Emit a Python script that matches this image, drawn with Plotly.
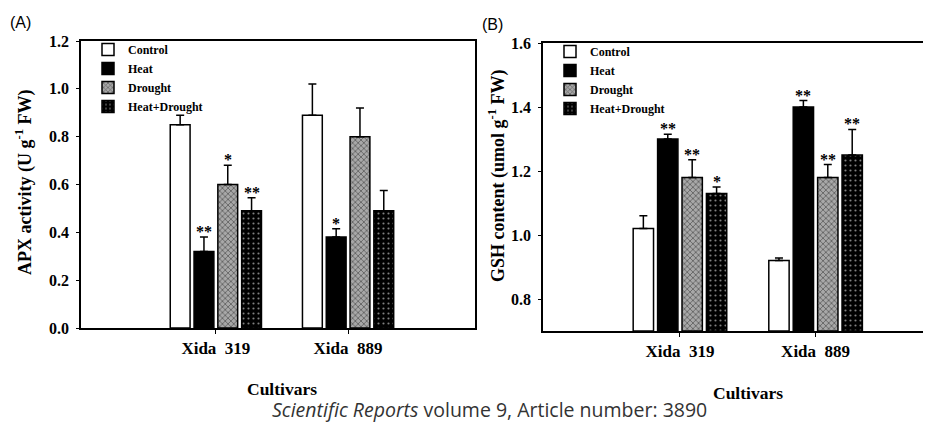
import plotly.graph_objects as go

# ---------------- data ----------------
cultivars = ["Xida\u00a0\u00a0319", "Xida\u00a0\u00a0889"]
treatments = ["Control", "Heat", "Drought", "Heat+Drought"]

apx_control = [0.85, 0.89]
apx_heat = [0.32, 0.38]
apx_drought = [0.60, 0.80]
apx_heatdrought = [0.49, 0.49]
apx_err_control = [0.04, 0.13]
apx_err_heat = [0.06, 0.035]
apx_err_drought = [0.08, 0.12]
apx_err_heatdrought = [0.055, 0.085]
apx_sig_control = ["", ""]
apx_sig_heat = ["**", "*"]
apx_sig_drought = ["*", ""]
apx_sig_heatdrought = ["**", ""]

gsh_control = [1.02, 0.92]
gsh_heat = [1.30, 1.40]
gsh_drought = [1.18, 1.18]
gsh_heatdrought = [1.13, 1.25]
gsh_err_control = [0.04, 0.008]
gsh_err_heat = [0.015, 0.02]
gsh_err_drought = [0.055, 0.04]
gsh_err_heatdrought = [0.02, 0.08]
gsh_sig_control = ["", ""]
gsh_sig_heat = ["**", "**"]
gsh_sig_drought = ["**", "**"]
gsh_sig_heatdrought = ["*", "**"]

apx_y_ticks = [0.0, 0.2, 0.4, 0.6, 0.8, 1.0, 1.2]
gsh_y_ticks = [0.8, 1.0, 1.2, 1.4, 1.6]
gsh_base = 0.7

# ---------------- layout helpers (page body offset compensation) ----------------
W, H, OFF = 931, 429, 8


def px(xp):
    return (xp - OFF) / W


def py(yp):
    return 1 - (yp - OFF) / H


SERIF = "Liberation Serif"
bar_w = 0.15
pitch = 0.18
start = -(3 * pitch + bar_w) / 2

styles = [
    dict(color="white", pattern=dict(shape="")),
    dict(color="black", pattern=dict(shape="")),
    dict(color="#8a8a8a", pattern=dict(shape="x", fgcolor="#1e1e1e", bgcolor="#a8a8a8", size=4, solidity=0.4)),
    dict(color="black", pattern=dict(shape=".", fgcolor="white", bgcolor="black", size=5, solidity=0.15)),
]

apx_vals = [apx_control, apx_heat, apx_drought, apx_heatdrought]
apx_errs = [apx_err_control, apx_err_heat, apx_err_drought, apx_err_heatdrought]
apx_sigs = [apx_sig_control, apx_sig_heat, apx_sig_drought, apx_sig_heatdrought]
gsh_vals = [gsh_control, gsh_heat, gsh_drought, gsh_heatdrought]
gsh_errs = [gsh_err_control, gsh_err_heat, gsh_err_drought, gsh_err_heatdrought]
gsh_sigs = [gsh_sig_control, gsh_sig_heat, gsh_sig_drought, gsh_sig_heatdrought]

fig = go.Figure()
xpos = list(range(len(cultivars)))
annotations = []

for vals, errs, sigs, xa, ya, leg, base in [
    (apx_vals, apx_errs, apx_sigs, "x", "y", "legend", 0.0),
    (gsh_vals, gsh_errs, gsh_sigs, "x2", "y2", "legend2", gsh_base),
]:
    for k, name in enumerate(treatments):
        st = styles[k]
        fig.add_trace(go.Bar(
            x=xpos, y=[v - base for v in vals[k]], base=base, name=name,
            width=bar_w, offset=start + k * pitch,
            marker=dict(color=st["color"], line=dict(color="black", width=1.5),
                        pattern=st["pattern"]),
            error_y=dict(type="data", array=errs[k], arrayminus=[0] * len(errs[k]),
                         symmetric=False, color="black", thickness=1.5, width=4),
            xaxis=xa, yaxis=ya, legend=leg, showlegend=True,
        ))
        for i in xpos:
            if sigs[k][i]:
                annotations.append(dict(
                    x=i + start + k * pitch + bar_w / 2, y=vals[k][i] + errs[k][i],
                    xref=xa, yref=ya, text=sigs[k][i], showarrow=False,
                    xanchor="center", yanchor="bottom", yshift=-5,
                    font=dict(family=SERIF, size=16, color="black", weight="bold")))

axis_common = dict(showline=True, linecolor="black", linewidth=1.5, mirror=True,
                   showgrid=False, zeroline=False, ticks="outside", automargin=False,
                   tickcolor="black",
                   tickfont=dict(family=SERIF, size=16, color="black", weight="bold"))
xtickfont = dict(family=SERIF, size=17, color="black", weight="bold")
legend_font = dict(family=SERIF, size=12, color="black", weight="bold")

fig.update_layout(
    width=W, height=H,
    margin=dict(l=0, r=0, t=0, b=0, pad=0, autoexpand=False),
    paper_bgcolor="white", plot_bgcolor="white",
    barmode="overlay",
    xaxis=dict(domain=[px(81), px(475)], range=[-1.02, 1.96],
               tickvals=xpos, ticktext=cultivars, ticklen=4, anchor="y", **axis_common),
    yaxis=dict(domain=[py(328), py(41)], range=[0, 1.2], ticklabelstandoff=4,
               tickvals=apx_y_ticks, tickformat=".1f", ticklen=3, anchor="x", **axis_common),
    xaxis2=dict(domain=[px(543), 1.0], range=[-1.01, 1.91],
                tickvals=xpos, ticktext=cultivars, ticklen=4, anchor="y2", **axis_common),
    yaxis2=dict(domain=[py(331), py(43)], range=[0.7, 1.6], ticklabelstandoff=4,
                tickvals=gsh_y_ticks, tickformat=".1f", ticklen=3, anchor="x2", **axis_common),
    legend=dict(x=px(88), y=py(35), xanchor="left", yanchor="top",
                bgcolor="rgba(0,0,0,0)", font=legend_font, tracegroupgap=0, itemwidth=30),
    legend2=dict(x=px(550), y=py(37), xanchor="left", yanchor="top",
                 bgcolor="rgba(0,0,0,0)", font=legend_font, tracegroupgap=0, itemwidth=30),
    showlegend=True,
)
fig.update_xaxes(tickfont=xtickfont)

annotations += [
    dict(text="(A)", x=px(20), y=py(22), xref="paper", yref="paper", showarrow=False,
         xanchor="center", yanchor="middle",
         font=dict(family="Liberation Sans", size=16, color="black")),
    dict(text="(B)", x=px(493), y=py(25), xref="paper", yref="paper", showarrow=False,
         xanchor="center", yanchor="middle",
         font=dict(family="Liberation Sans", size=16, color="black")),
    dict(text="<b>APX activity (U g<sup>-1</sup> FW)</b>", x=px(24), y=py(183),
         xref="paper", yref="paper", showarrow=False, textangle=-90,
         xanchor="center", yanchor="middle",
         font=dict(family=SERIF, size=18, color="black")),
    dict(text="<b>GSH content (umol g<sup>-1</sup> FW)</b>", x=px(497), y=py(176),
         xref="paper", yref="paper", showarrow=False, textangle=-90,
         xanchor="center", yanchor="middle",
         font=dict(family=SERIF, size=18, color="black")),
    dict(text="<b>Cultivars</b>", x=px(282), y=py(389), xref="paper", yref="paper",
         showarrow=False, xanchor="center", yanchor="middle",
         font=dict(family=SERIF, size=17.5, color="black")),
    dict(text="<b>Cultivars</b>", x=px(748), y=py(393), xref="paper", yref="paper",
         showarrow=False, xanchor="center", yanchor="middle",
         font=dict(family=SERIF, size=17.5, color="black")),
    dict(text="<i>Scientific Reports</i> volume 9, Article number: 3890", x=px(490),
         y=py(409), xref="paper", yref="paper", showarrow=False,
         xanchor="center", yanchor="middle",
         font=dict(family="Open Sans", size=19.5, color="#333")),
]
fig.update_layout(annotations=annotations)

fig.write_html("out.html")
